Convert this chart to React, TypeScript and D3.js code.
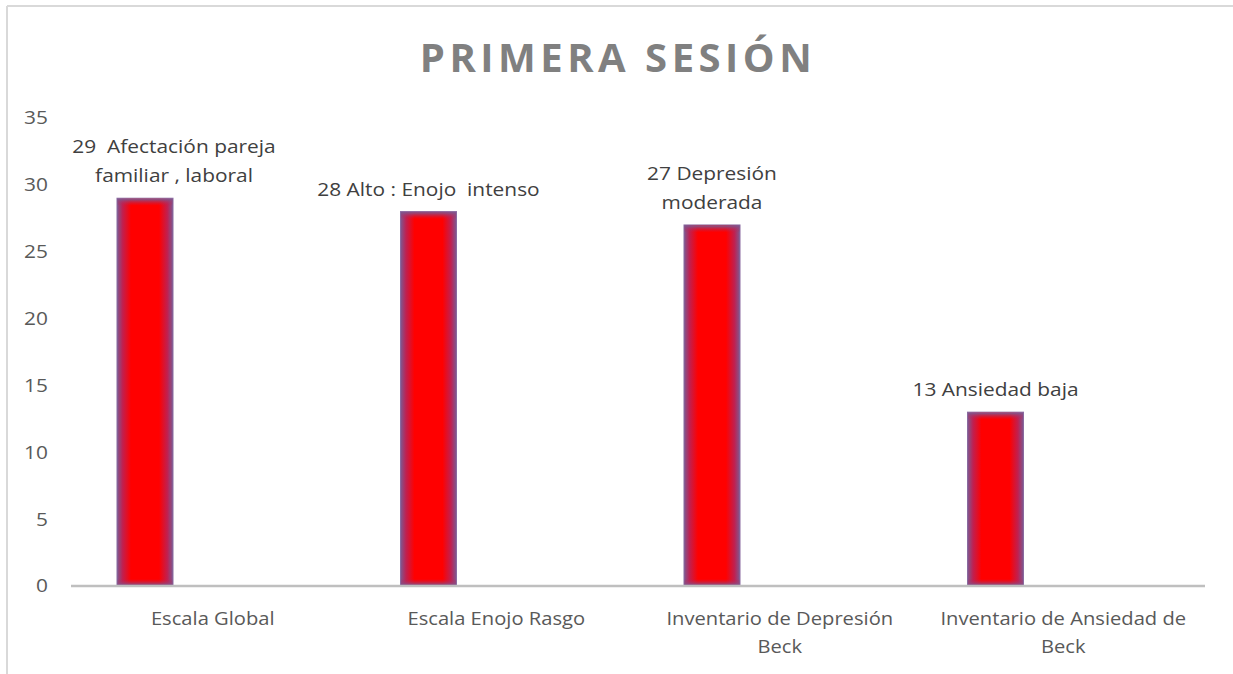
import React from "react";
import * as d3 from "d3";

const categories: string[][] = [
  ["Escala Global"],
  ["Escala Enojo Rasgo"],
  ["Inventario de Depresión", "Beck"],
  ["Inventario de Ansiedad de", "Beck"],
];
const values: number[] = [29, 28, 27, 13];
const dataLabels: string[][] = [
  ["29  Afectación pareja", "familiar , laboral"],
  ["28 Alto : Enojo  intenso"],
  ["27 Depresión", "moderada"],
  ["13 Ansiedad baja"],
];
const yTicks: number[] = [0, 5, 10, 15, 20, 25, 30, 35];
const title = "PRIMERA SESIÓN";

// layout
const W = 1233;
const H = 674;
const plotLeft = 71;
const plotRight = 1205;
const yZero = 586;
const yTop = 118;
const labelDx = [29, 0, 0, 0];
const FONT = "'Open Sans', 'Noto Sans', sans-serif";
const FS = 18.5;
const SX = 1.13;
const SXC = 1.09;

export default function App() {
  const x = d3.scaleBand<number>().domain(d3.range(categories.length)).range([plotLeft, plotRight]).padding(0);
  const y = d3.scaleLinear().domain([0, 35]).range([yZero, yTop]);
  const step = x.step();
  const barOff = (46 / 283.5) * step;
  const barW = (56 / 283.5) * step;

  return (
    <svg width={W} height={H} style={{ position: "absolute", left: 0, top: 0, background: "#fff" }}>
      <defs>
        <linearGradient id="hg" x1="0" x2="1" y1="0" y2="0">
          <stop offset="0%" stopColor="#7b5a92" />
          <stop offset="10%" stopColor="#c02050" />
          <stop offset="25%" stopColor="#ff0000" />
          <stop offset="75%" stopColor="#ff0000" />
          <stop offset="90%" stopColor="#c02050" />
          <stop offset="100%" stopColor="#7b5a92" />
        </linearGradient>
        <linearGradient id="vg" x1="0" x2="0" y1="0" y2="1">
          <stop offset="0%" stopColor="#7b5a92" stopOpacity={1} />
          <stop offset="100%" stopColor="#c02050" stopOpacity={0} />
        </linearGradient>
      </defs>
      <rect x={0} y={0} width={W} height={H} fill="#fff" />
      {/* chart border */}
      <line x1={7} x2={W} y1={6} y2={6} stroke="#d9d9d9" strokeWidth={2} />
      <line x1={7} x2={7} y1={6} y2={H} stroke="#d9d9d9" strokeWidth={2} />

      <text x={618} y={72} textAnchor="middle" fontFamily={FONT} fontWeight={700} fontSize={40}
        letterSpacing={4.5} fill="#808080">{title}</text>

      {yTicks.map((t) => (
        <g key={t} transform={`translate(48,${y(t)}) scale(${SX},1)`}>
          <text x={0} y={0} dy="0.35em" textAnchor="end" fontFamily={FONT} fontSize={FS} fill="#595959">{t}</text>
        </g>
      ))}

      {values.map((v, i) => {
        const bx = (x(i) as number) + barOff;
        const by = y(v);
        const bh = yZero - by;
        return (
          <g key={i}>
            <rect x={bx} y={by} width={barW} height={bh} fill="url(#hg)" stroke="#8a6aa0" strokeWidth={1} />
            <rect x={bx + 0.5} y={by + 0.5} width={barW - 1} height={7} fill="url(#vg)" />
            <rect x={bx + 0.5} y={yZero - 7} width={barW - 1} height={6.5} fill="url(#vg)" transform={`rotate(180 ${bx + barW / 2} ${yZero - 3.75})`} />
          </g>
        );
      })}

      <line x1={plotLeft} x2={plotRight} y1={yZero} y2={yZero} stroke="#bfbfbf" strokeWidth={2.5} />

      {values.map((v, i) => {
        const cx = (x(i) as number) + barOff + barW / 2 + labelDx[i];
        const lines = dataLabels[i];
        const baseY = y(v) - 16;
        return (
          <g key={i} transform={`translate(${cx},0) scale(${SX},1)`}>
            <text textAnchor="middle" fontFamily={FONT} fontSize={FS} fill="#404040">
              {lines.map((l, j) => (
                <tspan key={j} x={0} y={baseY - (lines.length - 1 - j) * 29} style={{ whiteSpace: "pre" }}>{l}</tspan>
              ))}
            </text>
          </g>
        );
      })}

      {categories.map((c, i) => {
        const cx = (x(i) as number) + step / 2;
        return (
          <g key={i} transform={`translate(${cx},0) scale(${SXC},1)`}>
            <text textAnchor="middle" fontFamily={FONT} fontSize={FS} fill="#595959">
              {c.map((l, j) => (
                <tspan key={j} x={0} y={625 + j * 28}>{l}</tspan>
              ))}
            </text>
          </g>
        );
      })}
    </svg>
  );
}
